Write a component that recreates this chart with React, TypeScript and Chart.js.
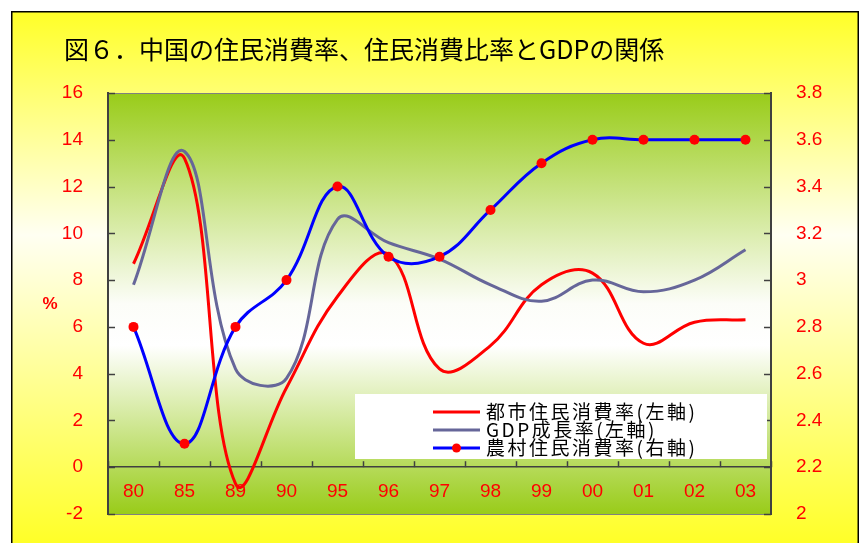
import React, { useEffect, useRef } from 'react';
import { Chart, registerables } from 'chart.js';

Chart.register(...registerables);

const titleText = '図６．中国の住民消費率、住民消費比率とGDPの関係';
const unitLabel = '%';
const categories = ['80', '85', '89', '90', '95', '96', '97', '98', '99', '00', '01', '02', '03'];
const urbanConsumption = [8.7, 13.2, -0.7, 3.4, 7.3, 9.1, 4.2, 5.2, 7.8, 8.3, 5.3, 6.2, 6.3];
const gdpGrowth = [7.8, 13.5, 4.2, 3.8, 10.6, 9.6, 8.9, 7.8, 7.1, 8.0, 7.5, 8.0, 9.3];
const ruralConsumption = [2.8, 2.3, 2.8, 3.0, 3.4, 3.1, 3.1, 3.3, 3.5, 3.6, 3.6, 3.6, 3.6];
const seriesLabels = ['都市住民消費率(左軸)', 'GDP成長率(左軸)', '農村住民消費率(右軸)'];
const leftTicks = { min: -2, max: 16, step: 2 };
const rightTicks = { min: 2, max: 3.8, step: 0.2 };

const RED = '#ff0000';
const GRAY = '#666699';
const BLUE = '#0000ff';

const decorPlugin = {
  id: 'decor',
  beforeDraw(chart: any) {
    const { ctx, width, height, chartArea: a } = chart;
    ctx.save();
    ctx.fillStyle = '#ffffff';
    ctx.fillRect(0, 0, width, height);
    const g = ctx.createLinearGradient(0, 12, 0, height);
    g.addColorStop(0, 'rgb(255,255,40)');
    g.addColorStop(0.42, 'rgb(255,255,242)');
    g.addColorStop(1, 'rgb(255,255,40)');
    ctx.fillStyle = g;
    ctx.fillRect(12, 12, 846, height);
    ctx.strokeStyle = '#000';
    ctx.lineWidth = 1.5;
    ctx.strokeRect(11.75, 11.75, 846.5, height + 20);

    const pg = ctx.createLinearGradient(0, a.top, 0, a.bottom);
    pg.addColorStop(0, 'rgb(153,204,25)');
    pg.addColorStop(0.5, 'rgb(252,253,248)');
    pg.addColorStop(0.6, 'rgb(255,255,255)');
    pg.addColorStop(1, 'rgb(153,204,25)');
    ctx.fillStyle = pg;
    ctx.fillRect(a.left, a.top, a.right - a.left, a.bottom - a.top);
    ctx.strokeStyle = '#808080';
    ctx.lineWidth = 1;
    ctx.strokeRect(a.left + 0.5, a.top + 0.5, a.right - a.left - 1, a.bottom - a.top);

    ctx.fillStyle = '#000';
    ctx.font = '25px "Noto Sans CJK JP"';
    ctx.textBaseline = 'middle';
    ctx.textAlign = 'left';
    ctx.fillText(titleText, 64, 49);

    ctx.fillStyle = RED;
    ctx.font = 'bold 17px "Liberation Sans"';
    ctx.textAlign = 'center';
    ctx.fillText(unitLabel, 50, 304);
    ctx.restore();
  },
  afterDraw(chart: any) {
    const { ctx, chartArea: a, scales } = chart;
    ctx.save();
    ctx.strokeStyle = '#404040';
    ctx.lineWidth = 1.5;
    scales.y.ticks.forEach((t: any) => {
      const py = Math.round(scales.y.getPixelForValue(t.value)) + 0.5;
      ctx.beginPath();
      ctx.moveTo(a.left, py);
      ctx.lineTo(a.left + 7, py);
      ctx.stroke();
    });
    scales.y2.ticks.forEach((t: any) => {
      const py = Math.round(scales.y2.getPixelForValue(t.value)) + 0.5;
      ctx.beginPath();
      ctx.moveTo(a.right, py);
      ctx.lineTo(a.right - 7, py);
      ctx.stroke();
    });
    const x = scales.x;
    const half = (x.getPixelForValue(1) - x.getPixelForValue(0)) / 2;
    const y0 = scales.y.getPixelForValue(0);
    for (let i = 0; i <= categories.length; i++) {
      const px = Math.round(x.getPixelForValue(i) - half) + 0.5;
      ctx.beginPath();
      ctx.moveTo(px, y0);
      ctx.lineTo(px, y0 - 6);
      ctx.stroke();
    }

    const lx = 355, ly = 394, lw = 412, lh = 65;
    ctx.fillStyle = '#ffffff';
    ctx.fillRect(lx, ly, lw, lh);
    const colors = [RED, GRAY, BLUE];
    ctx.font = '19px "Noto Sans CJK JP"';
    ctx.textBaseline = 'middle';
    ctx.textAlign = 'left';
    (ctx as any).letterSpacing = '2.5px';
    seriesLabels.forEach((lab, i) => {
      const ry = 412 + i * 18;
      ctx.strokeStyle = colors[i];
      ctx.lineWidth = 3;
      ctx.beginPath();
      ctx.moveTo(433, ry);
      ctx.lineTo(480, ry);
      ctx.stroke();
      if (i === 2) {
        ctx.fillStyle = RED;
        ctx.beginPath();
        ctx.arc(456.5, ry, 4.5, 0, Math.PI * 2);
        ctx.fill();
      }
      ctx.fillStyle = '#000';
      ctx.fillText(lab, 486, ry);
    });
    ctx.restore();
  },
};

export default function App() {
  const ref = useRef<HTMLCanvasElement>(null);
  useEffect(() => {
    const tickFont = { family: '"Liberation Sans", Arial, sans-serif', size: 19 };
    const chart = new Chart(ref.current as HTMLCanvasElement, {
      type: 'line',
      data: {
        labels: categories,
        datasets: [
          {
            label: seriesLabels[0],
            data: urbanConsumption,
            yAxisID: 'y',
            borderColor: RED,
            backgroundColor: RED,
            borderWidth: 3,
            pointRadius: 0,
            tension: 0.4,
            order: 2,
          },
          {
            label: seriesLabels[1],
            data: gdpGrowth,
            yAxisID: 'y',
            borderColor: GRAY,
            backgroundColor: GRAY,
            borderWidth: 3,
            pointRadius: 0,
            tension: 0.4,
            order: 1,
          },
          {
            label: seriesLabels[2],
            data: ruralConsumption,
            yAxisID: 'y2',
            borderColor: BLUE,
            backgroundColor: RED,
            borderWidth: 3,
            pointRadius: 5,
            pointBorderWidth: 0,
            pointBackgroundColor: RED,
            pointBorderColor: RED,
            tension: 0.4,
            order: 0,
          },
        ],
      },
      options: {
        animation: false,
        responsive: false,
        maintainAspectRatio: false,
        devicePixelRatio: 1,
        layout: { padding: { top: 93, bottom: 29, left: 0, right: 0 } },
        plugins: { legend: { display: false }, tooltip: { enabled: false }, title: { display: false } },
        scales: {
          x: {
            type: 'category',
            offset: true,
            position: { y: 0 } as any,
            grid: {
              display: true,
              drawOnChartArea: false,
              drawTicks: true,
              tickLength: 13,
              color: 'rgba(0,0,0,0)',
            },
            border: { display: true, color: '#404040', width: 1.5 },
            ticks: { color: RED, font: tickFont, padding: 0, autoSkip: false, maxRotation: 0 },
          },
          y: {
            position: 'left',
            min: leftTicks.min,
            max: leftTicks.max,
            grid: { display: false },
            border: { display: true, color: '#404040', width: 2 },
            ticks: { stepSize: leftTicks.step, color: RED, font: tickFont, padding: 17 },
            afterFit: (s: any) => {
              s.width = 108;
            },
          },
          y2: {
            position: 'right',
            min: rightTicks.min,
            max: rightTicks.max,
            grid: { display: false },
            border: { display: true, color: '#404040', width: 2 },
            ticks: {
              stepSize: rightTicks.step,
              color: RED,
              font: tickFont,
              padding: 17,
              callback: (v: any) => String(Number(Number(v).toFixed(1))),
            },
            afterFit: (s: any) => {
              s.width = 93;
            },
          },
        },
      },
      plugins: [decorPlugin],
    } as any);
    return () => chart.destroy();
  }, []);
  return (
    <canvas
      ref={ref}
      width={864}
      height={543}
      style={{ position: 'absolute', left: 0, top: 0, width: 864, height: 543, display: 'block' }}
    />
  );
}
